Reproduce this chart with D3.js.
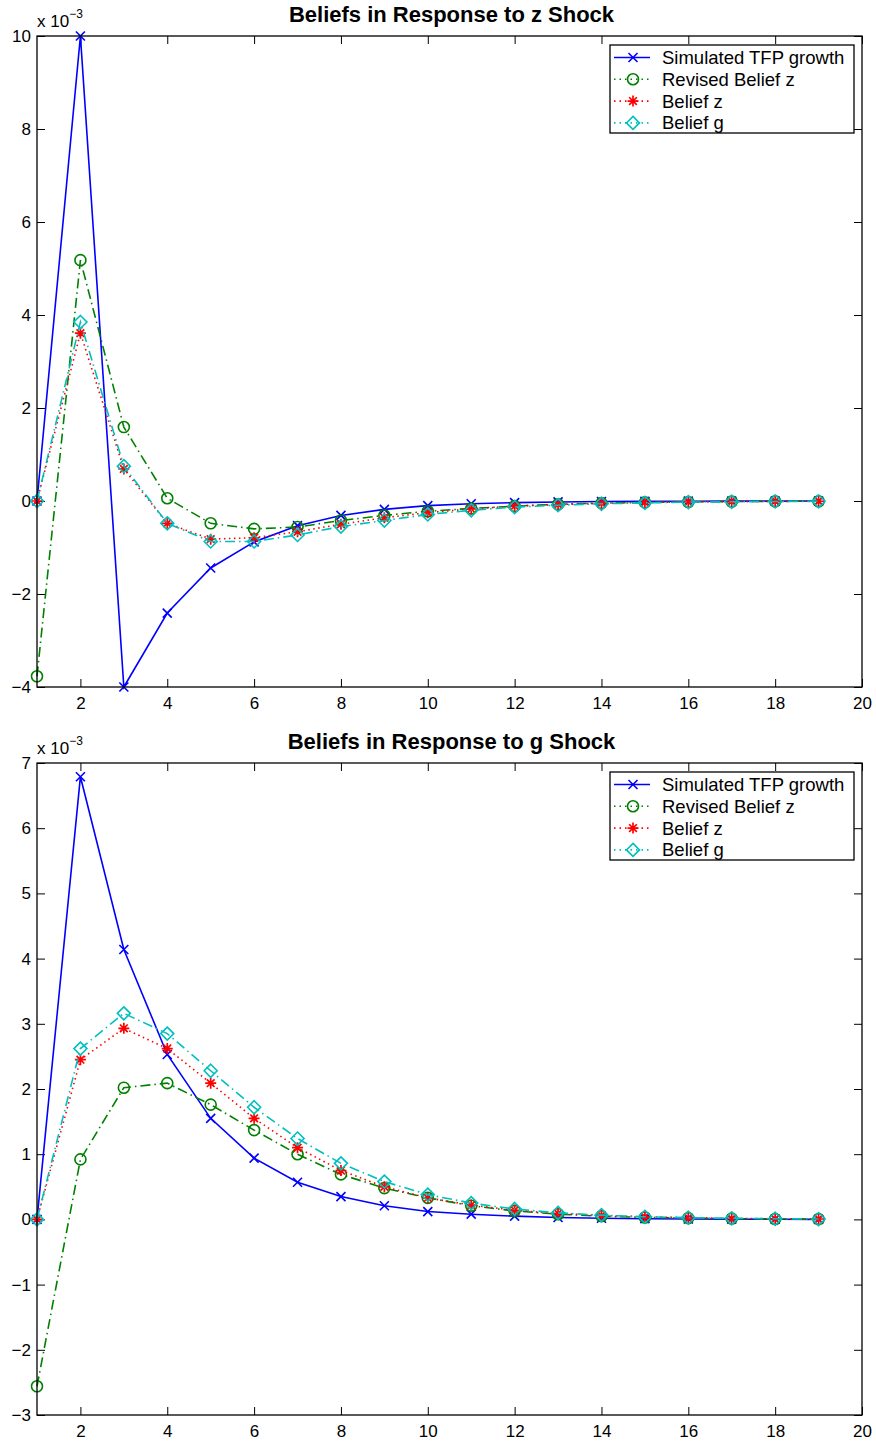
<!DOCTYPE html>
<html><head><meta charset="utf-8">
<script src="https://cdn.jsdelivr.net/npm/d3@7"></script>
<style>body{margin:0;background:#fff}svg{display:block}text{font-family:"Liberation Sans",Arial,sans-serif}</style>
</head><body>
<script>
const steps = d3.range(1, 20);
const xTicks = [2,4,6,8,10,12,14,16,18,20];
const seriesNames = ["Simulated TFP growth","Revised Belief z","Belief z","Belief g"];

// Panel 1: z shock (values x 1e-3)
const zTFP = [0,10,-4,-2.41,-1.44,-0.88,-0.53,-0.31,-0.18,-0.1,-0.06,-0.035,-0.02,-0.012,-0.007,-0.004,-0.003,-0.002,-0.001];
const zRevZ = [-3.77,5.18,1.59,0.06,-0.48,-0.6,-0.56,-0.42,-0.31,-0.22,-0.16,-0.11,-0.07,-0.045,-0.03,-0.02,-0.012,-0.008,-0.005];
const zBelZ = [0,3.61,0.69,-0.48,-0.82,-0.79,-0.66,-0.5,-0.36,-0.25,-0.17,-0.11,-0.075,-0.05,-0.032,-0.02,-0.013,-0.008,-0.005];
const zBelG = [0,3.85,0.75,-0.48,-0.87,-0.87,-0.73,-0.55,-0.42,-0.29,-0.2,-0.13,-0.09,-0.06,-0.04,-0.025,-0.016,-0.01,-0.006];
const zYTicks = [-4,-2,0,2,4,6,8,10];

// Panel 2: g shock (values x 1e-3)
const gTFP = [0,6.79,4.14,2.53,1.55,0.94,0.57,0.35,0.21,0.12,0.08,0.05,0.03,0.018,0.011,0.007,0.004,0.002,0.001];
const gRevZ = [-2.56,0.92,2.02,2.09,1.76,1.37,1.0,0.69,0.48,0.33,0.21,0.13,0.08,0.05,0.03,0.02,0.012,0.007,0.004];
const gBelZ = [0,2.45,2.93,2.62,2.09,1.55,1.1,0.75,0.5,0.33,0.22,0.14,0.09,0.06,0.04,0.025,0.015,0.01,0.006];
const gBelG = [0,2.62,3.16,2.85,2.28,1.72,1.24,0.86,0.58,0.38,0.25,0.16,0.1,0.065,0.04,0.026,0.016,0.01,0.006];
const gYTicks = [-3,-2,-1,0,1,2,3,4,5,6,7];

const styles = [
  {color:"#0000ff", dash:null, marker:"x"},
  {color:"#008000", dash:"10,4,1.5,4", marker:"o"},
  {color:"#ff0000", dash:"1.5,3.5", marker:"*"},
  {color:"#00bfbf", dash:"10,4,1.5,4", marker:"d"}
];

const FONT = "Liberation Sans, Arial, sans-serif";
const svg = d3.select("body").append("svg").attr("width",876).attr("height",1443);

function drawMarker(g, type, x, y, color){
  if(type==="x"){
    const s=4.5;
    g.append("path").attr("d",`M${x-s},${y-s}L${x+s},${y+s}M${x-s},${y+s}L${x+s},${y-s}`)
      .attr("stroke",color).attr("stroke-width",1.6).attr("fill","none");
  } else if(type==="o"){
    g.append("circle").attr("cx",x).attr("cy",y).attr("r",5.5)
      .attr("stroke",color).attr("stroke-width",1.6).attr("fill","none");
  } else if(type==="*"){
    const s=5.5, d=s*0.7;
    g.append("path").attr("d",`M${x-s},${y}L${x+s},${y}M${x},${y-s}L${x},${y+s}M${x-d},${y-d}L${x+d},${y+d}M${x-d},${y+d}L${x+d},${y-d}`)
      .attr("stroke",color).attr("stroke-width",1.7).attr("fill","none");
  } else if(type==="d"){
    const s=6.5;
    g.append("path").attr("d",`M${x},${y-s}L${x+s},${y}L${x},${y+s}L${x-s},${y}Z`)
      .attr("stroke",color).attr("stroke-width",1.6).attr("fill","none");
  }
}

function panel(top, bottom, yDomain, yTicks, data, title){
  const left=37, right=862;
  const x = d3.scaleLinear().domain([1,20]).range([left,right]);
  const y = d3.scaleLinear().domain(yDomain).range([bottom,top]);
  const g = svg.append("g");
  const fmt = d => (d<0? "\u2212"+Math.abs(d) : ""+d);

  const ax = g.append("g").attr("transform",`translate(0,${bottom})`)
    .call(d3.axisBottom(x).tickValues(xTicks).tickSizeInner(-8).tickSizeOuter(0).tickPadding(10).tickFormat(fmt));
  ax.select(".domain").remove();
  ax.selectAll("line").attr("stroke","#000");
  ax.selectAll("text").style("font-size","17px").attr("fill","#000").style("font-family",FONT);
  const axT = g.append("g").attr("transform",`translate(0,${top})`)
    .call(d3.axisTop(x).tickValues(xTicks).tickSizeInner(-8).tickSizeOuter(0).tickFormat(""));
  axT.select(".domain").remove();
  axT.selectAll("line").attr("stroke","#000");

  const ay = g.append("g").attr("transform",`translate(${left},0)`)
    .call(d3.axisLeft(y).tickValues(yTicks).tickSizeInner(-8).tickSizeOuter(0).tickPadding(6).tickFormat(fmt));
  ay.select(".domain").remove();
  ay.selectAll("line").attr("stroke","#000");
  ay.selectAll("text").style("font-size","17px").attr("fill","#000").style("font-family",FONT);
  const ayR = g.append("g").attr("transform",`translate(${right},0)`)
    .call(d3.axisRight(y).tickValues(yTicks).tickSizeInner(-8).tickSizeOuter(0).tickFormat(""));
  ayR.select(".domain").remove();
  ayR.selectAll("line").attr("stroke","#000");

  const line = d3.line().x((d,i)=>x(steps[i])).y(d=>y(d));
  data.forEach((vals,si)=>{
    const st = styles[si];
    g.append("path").datum(vals).attr("d",line).attr("fill","none")
      .attr("stroke",st.color).attr("stroke-width",1.6)
      .attr("stroke-dasharray",st.dash);
    const mg = g.append("g");
    vals.forEach((v,i)=>drawMarker(mg, st.marker, x(steps[i]), y(v), st.color));
  });

  g.append("rect").attr("x",left).attr("y",top).attr("width",right-left).attr("height",bottom-top)
    .attr("fill","none").attr("stroke","#000").attr("stroke-width",1.3);

  g.append("text").attr("x",451.5).attr("y",top-14).attr("text-anchor","middle")
    .style("font-size","22px").attr("font-weight","bold").text(title);
  const ex = g.append("text").attr("x",37).attr("y",top-9).style("font-size","17px");
  ex.append("tspan").text("x 10");
  ex.append("tspan").attr("dy",-9).style("font-size","12px").text("\u22123");

  const lx=610, ly=top+9, lw=244, lh=88;
  const lg = g.append("g");
  lg.append("rect").attr("x",lx).attr("y",ly).attr("width",lw).attr("height",lh)
    .attr("fill","#fff").attr("stroke","#000").attr("stroke-width",1.3);
  seriesNames.forEach((name,i)=>{
    const yy = ly+12.5+i*21.8;
    const st = styles[i];
    lg.append("line").attr("x1",lx+4).attr("x2",lx+40).attr("y1",yy).attr("y2",yy)
      .attr("stroke",st.color).attr("stroke-width",1.6)
      .attr("stroke-dasharray", i===0? null : "1.5,4");
    drawMarker(lg, st.marker, lx+23, yy, st.color);
    lg.append("text").attr("x",lx+52).attr("y",yy+6.5).style("font-size","18.5px").text(name);
  });
}

panel(36, 687, [-4,10], zYTicks, [zTFP,zRevZ,zBelZ,zBelG], "Beliefs in Response to z Shock");
panel(763, 1415, [-3,7], gYTicks, [gTFP,gRevZ,gBelZ,gBelG], "Beliefs in Response to g Shock");
</script>
</body></html>
